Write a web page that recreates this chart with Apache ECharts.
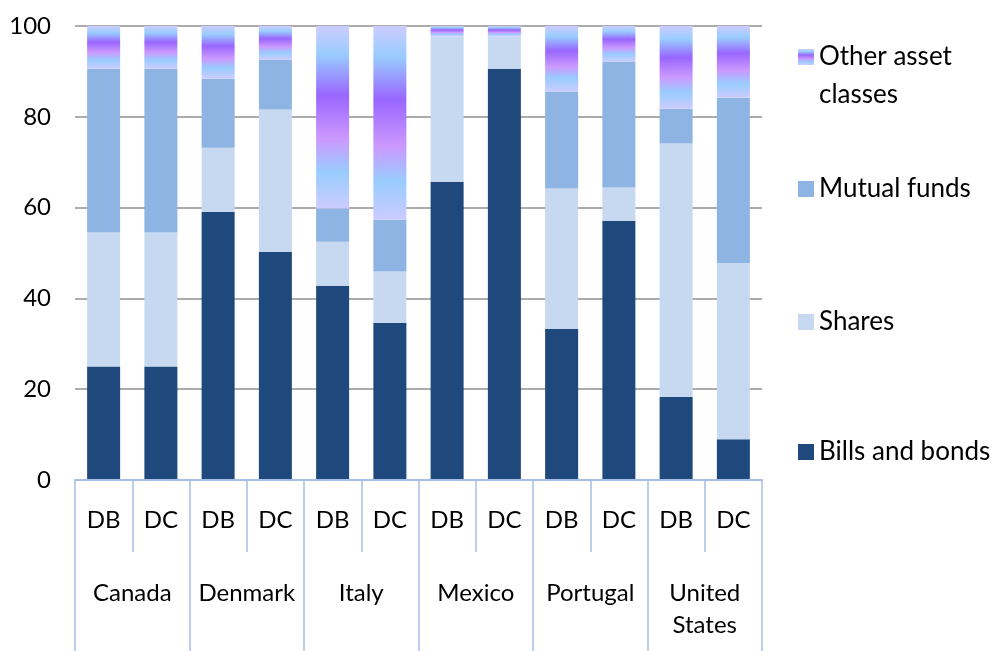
<!DOCTYPE html>
<html>
<head>
<meta charset="utf-8">
<script src="https://cdn.jsdelivr.net/npm/echarts@6/dist/echarts.min.js"></script>
<style>
  html, body { margin: 0; padding: 0; background: #fff; }
  #chart { width: 1000px; height: 651px; }
</style>
</head>
<body>
<div id="chart"></div>
<script>
// categories
const countries = ['Canada', 'Denmark', 'Italy', 'Mexico', 'Portugal', 'United\nStates']
const plans = ['DB', 'DC', 'DB', 'DC', 'DB', 'DC', 'DB', 'DC', 'DB', 'DC', 'DB', 'DC']
const yTicks = [0, 20, 40, 60, 80, 100]

// shares of each asset class, per plan
const billsBonds  = [25.0, 25.0, 59.1, 50.3, 42.8, 34.6, 65.7, 90.6, 33.3, 57.1, 18.3, 9.0]
const shares      = [29.5, 29.5, 14.1, 31.3, 9.7, 11.3, 32.0, 7.1, 30.9, 7.3, 55.8, 38.8]
const mutualFunds = [36.1, 36.1, 15.2, 11.0, 7.3, 11.4, 0, 0, 21.4, 27.8, 7.7, 36.4]
const otherAssets = [9.4, 9.4, 11.6, 7.4, 40.2, 42.7, 2.3, 2.3, 14.4, 7.8, 18.2, 15.8]

const FONT = 'Lato'
const axisBlue = '#a7bfe6'

const otherFill = new echarts.graphic.LinearGradient(0, 0, 0, 1, [
    {offset: 0, color: '#ccccff'},
    {offset: 0.16, color: '#99ccff'},
    {offset: 0.38, color: '#9966ff'},
    {offset: 0.62, color: '#cc99ff'},
    {offset: 0.8, color: '#99ccff'},
    {offset: 1, color: '#ccccff'}
])

function barSeries(name, data, color){
    return {
        name: name,
        type: 'bar',
        stack: 'total',
        barWidth: 33,
        xAxisIndex: 0,
        itemStyle: {color: color},
        data: data
    }
}

// one legend per entry, so the uneven spacing can be matched
function legendAt(name, top, extra){
    return Object.assign({
        data: [name],
        orient: 'vertical',
        left: 793,
        top: top,
        icon: 'rect',
        itemWidth: 16,
        itemHeight: 16,
        selectedMode: false,
        textStyle: {fontFamily: FONT, fontSize: 26, color: '#000'}
    }, extra || {})
}

const chart = echarts.init(document.getElementById('chart'))
const option = {
    animation: false,
    backgroundColor: '#fff',
    grid: {left: 75, right: 238, top: 26, bottom: 171},
    legend: [
        // blank first line keeps the icon beside "Other asset"
        legendAt('Other asset classes', -5, {
            formatter: '\u00a0\nOther asset\nclasses',
            textStyle: {fontFamily: FONT, fontSize: 26, color: '#000', lineHeight: 38}
        }),
        legendAt('Mutual funds', 171),
        legendAt('Shares', 304),
        legendAt('Bills and bonds', 434)
    ],
    xAxis: [
        {
            type: 'category',
            data: plans,
            position: 'bottom',
            axisLine: {show: true, lineStyle: {color: axisBlue, width: 2}},
            axisTick: {show: true, interval: 0, length: 72, lineStyle: {color: axisBlue, width: 1.5}},
            axisLabel: {interval: 0, margin: 28, fontFamily: FONT, fontSize: 24, color: '#000'},
            z: 3
        },
        {
            type: 'category',
            data: countries,
            position: 'bottom',
            axisLine: {show: false},
            axisTick: {show: true, interval: 0, length: 171, lineStyle: {color: axisBlue, width: 1.5}},
            axisLabel: {interval: 0, margin: 97, fontFamily: FONT, fontSize: 24, lineHeight: 32, color: '#000'},
            z: 3
        }
    ],
    yAxis: {
        type: 'value',
        min: yTicks[0],
        max: yTicks[yTicks.length - 1],
        interval: 20,
        axisLine: {show: false},
        axisTick: {show: false},
        axisLabel: {margin: 24, fontFamily: FONT, fontSize: 24, color: '#000'},
        splitLine: {lineStyle: {color: '#919191', width: 1.5}}
    },
    series: [
        barSeries('Bills and bonds', billsBonds, '#1f497d'),
        barSeries('Shares', shares, '#c6d9f1'),
        barSeries('Mutual funds', mutualFunds, '#8eb4e3'),
        barSeries('Other asset classes', otherAssets, otherFill)
    ]
}
chart.setOption(option)
</script>
</body>
</html>
